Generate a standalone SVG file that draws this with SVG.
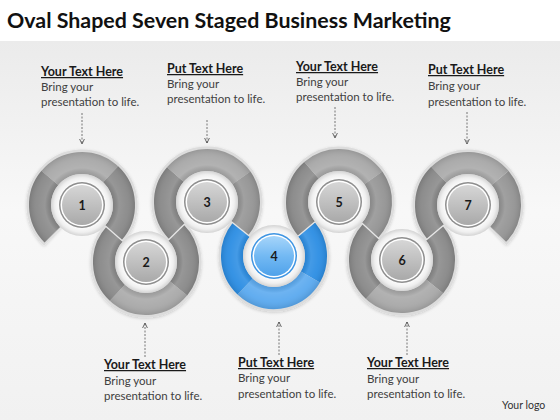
<svg xmlns="http://www.w3.org/2000/svg" width="560" height="420" viewBox="0 0 560 420">
<style>
.bd{fill:none;stroke-width:22}
.hl{fill:none;stroke:#dcdcdc;stroke-width:27}
.dk{stroke:#898989}.md{stroke:#949494}.lt{stroke:#a8a8a8}
.bdk{stroke:#2b8de3}.blt{stroke:#5aa9ef}
.sh{fill:none;stroke:url(#shine);stroke-width:22}
.jn{stroke:#e6e6e6;stroke-width:1.3}
.num{font-family:Lato,"Liberation Sans",sans-serif;font-weight:bold;font-size:12.5px;fill:#1a1a1a;text-anchor:middle}
.hd{font-family:Lato,"Liberation Sans",sans-serif;font-weight:bold;font-size:12.5px;fill:#1a1a1a;text-decoration:underline}
.tx{font-family:Lato,"Liberation Sans",sans-serif;font-size:11.5px;fill:#404040}
.ar{stroke:#555;stroke-width:0.8;stroke-dasharray:2 1.5;fill:none;marker-end:url(#chev)}
</style>
<defs>
<linearGradient id="bg" x1="0" y1="0" x2="0" y2="1">
<stop offset="0" stop-color="#ebebeb"/><stop offset="0.45" stop-color="#f8f8f8"/><stop offset="1" stop-color="#f1f1f1"/>
</linearGradient>
<radialGradient id="shine" gradientUnits="userSpaceOnUse" cx="0" cy="0" r="53">
<stop offset="0.58" stop-color="#000" stop-opacity="0.08"/>
<stop offset="0.7" stop-color="#fff" stop-opacity="0.12"/>
<stop offset="0.85" stop-color="#fff" stop-opacity="0.05"/>
<stop offset="1" stop-color="#000" stop-opacity="0.1"/>
</radialGradient>
<radialGradient id="inner" gradientUnits="userSpaceOnUse" cx="0" cy="0" r="31">
<stop offset="0.72" stop-color="#fdfdfd"/><stop offset="0.88" stop-color="#efefef"/><stop offset="1" stop-color="#d4d4d4"/>
</radialGradient>
<linearGradient id="disc" x1="0" y1="0" x2="0" y2="1">
<stop offset="0" stop-color="#d6d6d6"/><stop offset="0.5" stop-color="#c0c0c0"/><stop offset="1" stop-color="#a9a9a9"/>
</linearGradient>
<linearGradient id="bdisc" x1="0" y1="0" x2="0" y2="1">
<stop offset="0" stop-color="#a6d5fa"/><stop offset="0.5" stop-color="#73b9f3"/><stop offset="1" stop-color="#4fa2ea"/>
</linearGradient>
<filter id="ds" x="-20%" y="-20%" width="140%" height="140%">
<feDropShadow dx="0" dy="1" stdDeviation="1.5" flood-color="#000" flood-opacity="0.18"/>
</filter>
<marker id="chev" viewBox="0 0 6 6" refX="5.5" refY="3" markerWidth="6" markerHeight="6" markerUnits="userSpaceOnUse" orient="auto">
<path d="M0.5,0.6 L5.5,3 L0.5,5.4" fill="none" stroke="#444" stroke-width="0.8"/>
</marker>
</defs>
<rect x="0" y="0" width="560" height="420" fill="#fff"/>
<rect x="0" y="41" width="560" height="379" fill="url(#bg)"/>
<text x="7" y="28" font-family="Lato,'Liberation Sans',sans-serif" font-weight="bold" font-size="21.4" fill="#111">Oval Shaped Seven Staged Business Marketing</text>

<g id="rings-halo" filter="url(#ds)">
<circle class="hl" transform="translate(82,205) rotate(133)" r="42" pathLength="360" stroke-dasharray="268.7 360"/>
<circle class="hl" transform="translate(146,262) rotate(-44.5)" r="42" pathLength="360" stroke-dasharray="266.2 360"/>
<circle class="hl" transform="translate(207,202) rotate(135.5)" r="42" pathLength="360" stroke-dasharray="263.4 360"/>
<circle class="hl" transform="translate(274,256) rotate(-39.7)" r="42" pathLength="360" stroke-dasharray="258.6 360"/>
<circle class="hl" transform="translate(339,202) rotate(140.3)" r="42" pathLength="360" stroke-dasharray="262.3 360"/>
<circle class="hl" transform="translate(402,260) rotate(-39.8)" r="42" pathLength="360" stroke-dasharray="262.4 360"/>
<circle class="hl" transform="translate(468,205) rotate(140.2)" r="42" pathLength="360" stroke-dasharray="265.8 360"/>
</g>

<g id="node-1" transform="translate(82,205)">
<circle class="bd dk" transform="rotate(135)" r="42" pathLength="360" stroke-dasharray="85 360"/>
<circle class="bd lt" transform="rotate(220)" r="42" pathLength="360" stroke-dasharray="93 360"/>
<circle class="bd dk" transform="rotate(313)" r="42" pathLength="360" stroke-dasharray="88.7 360"/>
<circle class="sh" transform="rotate(135)" r="42" pathLength="360" stroke-dasharray="266.7 360"/>
<circle r="31" fill="url(#inner)"/>
<circle r="23" fill="#8e8e8e"/><circle r="21.5" fill="#fff"/><circle r="20" fill="url(#disc)"/>
<text class="num" y="4.5">1</text>
</g>
<g id="node-2" transform="translate(146,262)">
<circle class="bd dk" transform="rotate(-44.5)" r="42" pathLength="360" stroke-dasharray="83.5 360"/>
<circle class="bd lt" transform="rotate(39)" r="42" pathLength="360" stroke-dasharray="94 360"/>
<circle class="bd dk" transform="rotate(133)" r="42" pathLength="360" stroke-dasharray="88.7 360"/>
<circle class="sh" transform="rotate(-44.5)" r="42" pathLength="360" stroke-dasharray="266.2 360"/>
<circle r="31" fill="url(#inner)"/>
<circle r="23" fill="#8e8e8e"/><circle r="21.5" fill="#fff"/><circle r="20" fill="url(#disc)"/>
<text class="num" y="4.5">2</text>
</g>
<g id="node-3" transform="translate(207,202)">
<circle class="bd dk" transform="rotate(135.5)" r="42" pathLength="360" stroke-dasharray="85.5 360"/>
<circle class="bd lt" transform="rotate(221)" r="42" pathLength="360" stroke-dasharray="104 360"/>
<circle class="bd md" transform="rotate(325)" r="42" pathLength="360" stroke-dasharray="73.9 360"/>
<circle class="sh" transform="rotate(135.5)" r="42" pathLength="360" stroke-dasharray="263.4 360"/>
<circle r="31" fill="url(#inner)"/>
<circle r="23" fill="#8e8e8e"/><circle r="21.5" fill="#fff"/><circle r="20" fill="url(#disc)"/>
<text class="num" y="4.5">3</text>
</g>
<g id="node-4" transform="translate(274,256)">
<circle class="bd bdk" transform="rotate(-39.7)" r="42" pathLength="360" stroke-dasharray="69.7 360"/>
<circle class="bd blt" transform="rotate(30)" r="42" pathLength="360" stroke-dasharray="103.5 360"/>
<circle class="bd bdk" transform="rotate(133.5)" r="42" pathLength="360" stroke-dasharray="85.4 360"/>
<circle class="sh" transform="rotate(-39.7)" r="42" pathLength="360" stroke-dasharray="258.6 360"/>
<circle r="31" fill="url(#inner)"/>
<circle r="23" fill="#3d94e2"/><circle r="21.5" fill="#fff"/><circle r="20" fill="url(#bdisc)"/>
<text class="num" y="4.5">4</text>
</g>
<g id="node-5" transform="translate(339,202)">
<circle class="bd dk" transform="rotate(140.3)" r="42" pathLength="360" stroke-dasharray="88.7 360"/>
<circle class="bd lt" transform="rotate(229)" r="42" pathLength="360" stroke-dasharray="96 360"/>
<circle class="bd md" transform="rotate(325)" r="42" pathLength="360" stroke-dasharray="77.6 360"/>
<circle class="sh" transform="rotate(140.3)" r="42" pathLength="360" stroke-dasharray="262.3 360"/>
<circle r="31" fill="url(#inner)"/>
<circle r="23" fill="#8e8e8e"/><circle r="21.5" fill="#fff"/><circle r="20" fill="url(#disc)"/>
<text class="num" y="4.5">5</text>
</g>
<g id="node-6" transform="translate(402,260)">
<circle class="bd dk" transform="rotate(-39.8)" r="42" pathLength="360" stroke-dasharray="78.8 360"/>
<circle class="bd lt" transform="rotate(39)" r="42" pathLength="360" stroke-dasharray="94 360"/>
<circle class="bd dk" transform="rotate(133)" r="42" pathLength="360" stroke-dasharray="89.6 360"/>
<circle class="sh" transform="rotate(-39.8)" r="42" pathLength="360" stroke-dasharray="262.4 360"/>
<circle r="31" fill="url(#inner)"/>
<circle r="23" fill="#8e8e8e"/><circle r="21.5" fill="#fff"/><circle r="20" fill="url(#disc)"/>
<text class="num" y="4.5">6</text>
</g>
<g id="node-7" transform="translate(468,205)">
<circle class="bd dk" transform="rotate(140.2)" r="42" pathLength="360" stroke-dasharray="85.8 360"/>
<circle class="bd lt" transform="rotate(226)" r="42" pathLength="360" stroke-dasharray="94 360"/>
<circle class="bd md" transform="rotate(320)" r="42" pathLength="360" stroke-dasharray="84 360"/>
<circle class="sh" transform="rotate(140.2)" r="42" pathLength="360" stroke-dasharray="263.8 360"/>
<circle r="31" fill="url(#inner)"/>
<circle r="23" fill="#8e8e8e"/><circle r="21.5" fill="#fff"/><circle r="20" fill="url(#disc)"/>
<text class="num" y="4.5">7</text>
</g>

<g id="junctions">
<line class="jn" x1="105.1" y1="225.7" x2="122.9" y2="241.3"/>
<line class="jn" x1="168.1" y1="240.3" x2="184.9" y2="223.7"/>
<line class="jn" x1="231.1" y1="221.5" x2="249.9" y2="236.5"/>
<line class="jn" x1="297.9" y1="236.2" x2="315.1" y2="221.8"/>
<line class="jn" x1="361.8" y1="223.0" x2="379.2" y2="239.0"/>
<line class="jn" x1="425.8" y1="240.2" x2="444.2" y2="224.8"/>
</g>

<g id="connectors">
<line class="ar" x1="82" y1="113" x2="82" y2="144"/>
<line class="ar" x1="207" y1="120" x2="207" y2="143"/>
<line class="ar" x1="335" y1="107" x2="335" y2="138"/>
<line class="ar" x1="467" y1="112" x2="467" y2="144"/>
<line class="ar" x1="145" y1="357" x2="145" y2="323"/>
<line class="ar" x1="279" y1="355" x2="279" y2="322"/>
<line class="ar" x1="407" y1="355" x2="407" y2="322"/>
</g>

<g id="label-1"><text class="hd" x="41" y="76">Your Text Here</text><text class="tx" x="41" y="91">Bring your</text><text class="tx" x="41" y="106">presentation to life.</text></g>
<g id="label-3"><text class="hd" x="167" y="73">Put Text Here</text><text class="tx" x="167" y="88">Bring your</text><text class="tx" x="167" y="103">presentation to life.</text></g>
<g id="label-5"><text class="hd" x="296" y="71">Your Text Here</text><text class="tx" x="296" y="86">Bring your</text><text class="tx" x="296" y="101">presentation to life.</text></g>
<g id="label-7"><text class="hd" x="428" y="74">Put Text Here</text><text class="tx" x="428" y="90">Bring your</text><text class="tx" x="428" y="106">presentation to life.</text></g>
<g id="label-2"><text class="hd" x="104" y="369">Your Text Here</text><text class="tx" x="104" y="385">Bring your</text><text class="tx" x="104" y="400">presentation to life.</text></g>
<g id="label-4"><text class="hd" x="238" y="367">Put Text Here</text><text class="tx" x="238" y="382">Bring your</text><text class="tx" x="238" y="398">presentation to life.</text></g>
<g id="label-6"><text class="hd" x="367" y="367">Your Text Here</text><text class="tx" x="367" y="383">Bring your</text><text class="tx" x="367" y="398">presentation to life.</text></g>
<text x="502" y="409" font-family="Lato,'Liberation Sans',sans-serif" font-size="10.5" fill="#333">Your logo</text>
</svg>
